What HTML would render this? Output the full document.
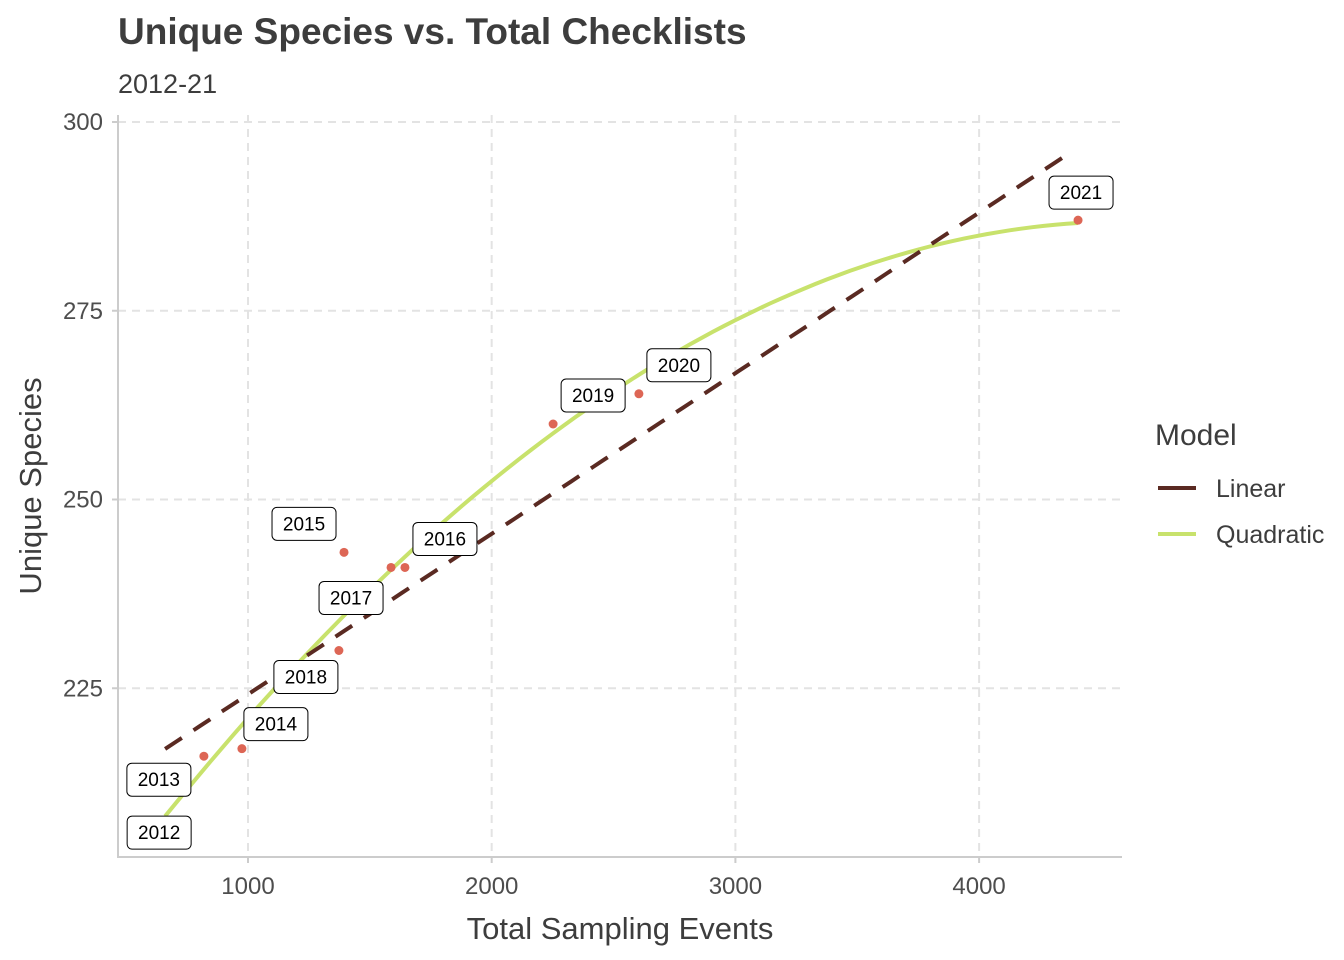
<!DOCTYPE html>
<html><head><meta charset="utf-8"><style>
body{margin:0;background:#fff;}
svg{display:block;font-family:"Liberation Sans",Arial,sans-serif;}
</style></head><body>
<svg id="c" width="1344" height="960">
<text x="118" y="44" font-size="37" font-weight="bold" fill="#3d3d3d">Unique Species vs. Total Checklists</text>
<text x="118" y="93" font-size="27" fill="#3d3d3d">2012-21</text>
<g id="grid"></g><g id="lines"></g><g id="pts"></g><g id="labs"></g>
<text x="620" y="939" font-size="31" fill="#3d3d3d" text-anchor="middle">Total Sampling Events</text>
<text transform="translate(41,486) rotate(-90)" font-size="31" fill="#3d3d3d" text-anchor="middle">Unique Species</text>
<g>
<text x="1155" y="445" font-size="30" fill="#3d3d3d">Model</text>
<line x1="1158" y1="488" x2="1196" y2="488" stroke="#5a2a22" stroke-width="4"/>
<text x="1216" y="497" font-size="25" fill="#3d3d3d">Linear</text>
<line x1="1158" y1="534" x2="1196" y2="534" stroke="#c8e26c" stroke-width="4"/>
<text x="1216" y="543" font-size="25" fill="#3d3d3d">Quadratic</text>
</g>
</svg>
<script>
const years=[2012,2013,2014,2015,2016,2017,2018,2019,2020,2021];
const events=[660,819,975,1394,1644,1587,1373,2252,2604,4406];
const species=[207,216,217,243,241,241,230,260,264,287];
const xTicks=[1000,2000,3000,4000];
const yTicks=[225,250,275,300];
const labelDx=[-6,-45,34,-40,40,-40,-33,40,40,3];
const labelDy=[8,23,-25,-29,-29,30,26,-29,-29,-28];
const NS='http://www.w3.org/2000/svg';
const X=v=>248+(v-1000)*0.2437;
const Y=v=>122+(300-v)*7.55;
function mk(t,a,p){const e=document.createElementNS(NS,t);for(const k in a)e.setAttribute(k,a[k]);p.appendChild(e);return e;}
const g=document.getElementById('grid');
for(const t of xTicks){
 const l=mk('line',{x1:X(t),x2:X(t),y1:115,y2:857,stroke:'#e3e3e3','stroke-width':2,'stroke-dasharray':'8,6'},g);
 
 
 const tk=mk('line',{x1:X(t),x2:X(t),y1:857,y2:863,stroke:'#ccc','stroke-width':2},g);
 
 
 const tx=mk('text',{x:X(t),y:894,'font-size':24,fill:'#4d4d4d','text-anchor':'middle'},g);
 tx.textContent=t;
 
 
}
for(const t of yTicks){
 const l=mk('line',{x1:118,x2:1122,y1:Y(t),y2:Y(t),stroke:'#e3e3e3','stroke-width':2,'stroke-dasharray':'8,6'},g);
 
 
 const tk=mk('line',{x1:112,x2:118,y1:Y(t),y2:Y(t),stroke:'#ccc','stroke-width':2},g);
 
 
 const tx=mk('text',{x:103,y:Y(t)+8,'font-size':24,fill:'#4d4d4d','text-anchor':'end'},g);
 tx.textContent=t;
 
 
}
const ax=mk('path',{d:'M118,115V857H1122',fill:'none',stroke:'#ccc','stroke-width':2},g);


function solve(A,b){const n=b.length;for(let i=0;i<n;i++){let p=i;for(let r=i+1;r<n;r++)if(Math.abs(A[r][i])>Math.abs(A[p][i]))p=r;[A[i],A[p]]=[A[p],A[i]];[b[i],b[p]]=[b[p],b[i]];for(let r=i+1;r<n;r++){const f=A[r][i]/A[i][i];for(let c=i;c<n;c++)A[r][c]-=f*A[i][c];b[r]-=f*b[i];}}const x=new Array(n);for(let i=n-1;i>=0;i--){let s=b[i];for(let c=i+1;c<n;c++)s-=A[i][c]*x[c];x[i]=s/A[i][i];}return x;}
function fit(deg){const n=deg+1,A=[],b=[];for(let i=0;i<n;i++){A.push(new Array(n).fill(0));b.push(0);}
 for(let k=0;k<events.length;k++){const u=events[k]/1000;for(let i=0;i<n;i++){b[i]+=species[k]*u**i;for(let j=0;j<n;j++)A[i][j]+=u**(i+j);}}return solve(A,b);}
const lin=fit(1),quad=fit(2);
const mn=Math.min(...events),mx=Math.max(...events);
const L=document.getElementById('lines');
function curve(co,end){let d='';for(let i=0;i<=80;i++){const v=mn+(end-mn)*i/80,u=v/1000;let s=0;co.forEach((c,j)=>s+=c*u**j);const y=Math.max(115,Math.min(857,Y(s)));d+=(i?'L':'M')+X(v).toFixed(1)+','+y.toFixed(1);}return d;}
const q=mk('path',{d:curve(quad,mx),fill:'none',stroke:'#c8e26c','stroke-width':4},L);


const li=mk('path',{d:curve(lin,mx-50),fill:'none',stroke:'#5a2a22','stroke-width':4,'stroke-dasharray':'20,14'},L);


const P=document.getElementById('pts'),LB=document.getElementById('labs');
years.forEach((yr,i)=>{
 const cx=X(events[i]),cy=Y(species[i]);
 const c=mk('circle',{cx,cy,r:4.5,fill:'#dd6655'},P);
 
 
 const lx=cx+labelDx[i],ly=cy+labelDy[i];
 const gg=mk('g',{},LB);
 
 
 mk('rect',{x:lx-32,y:ly-16,width:64,height:33,rx:5,fill:'#fff',stroke:'#000','stroke-width':1},gg);
 const t=mk('text',{x:lx,y:ly+7,'font-size':19,'text-anchor':'middle',fill:'#000'},gg);
 t.textContent=yr;
});
</script>
</body></html>
